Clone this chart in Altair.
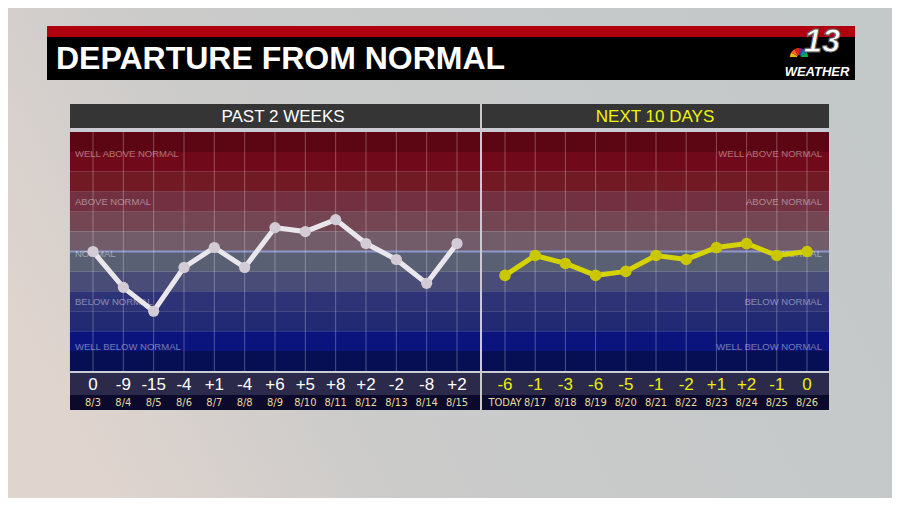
import altair as alt
import pandas as pd

past_dates = ["8/3", "8/4", "8/5", "8/6", "8/7", "8/8", "8/9", "8/10", "8/11", "8/12", "8/13", "8/14", "8/15"]
past_vals = [0, -9, -15, -4, 1, -4, 6, 5, 8, 2, -2, -8, 2]
next_dates = ["TODAY", "8/17", "8/18", "8/19", "8/20", "8/21", "8/22", "8/23", "8/24", "8/25", "8/26"]
next_vals = [-6, -1, -3, -6, -5, -1, -2, 1, 2, -1, 0]

band_colors = ["#5c0614", "#700a1a", "#721a24", "#723040", "#744654", "#735c6a",
               "#5a6074", "#4a4c78", "#2e3276", "#222a74", "#0a147c", "#060e54"]
band_names = ["WELL ABOVE NORMAL", "ABOVE NORMAL", "NORMAL", "BELOW NORMAL", "WELL BELOW NORMAL"]
band_levels = [24.5, 12.4, -0.6, -12.6, -24.1]
peacock = ["#f7b500", "#f26522", "#e2231a", "#6a2c91", "#0089cf", "#0db14b"]

FONT = "Liberation Sans, Arial, sans-serif"
NARROW = "DejaVu Sans Condensed, sans-serif"


def fmt(v):
    return f"+{v}" if v > 0 else str(v)


past = pd.DataFrame({"i": range(len(past_vals)), "v": past_vals, "d": past_dates,
                     "lab": [fmt(v) for v in past_vals]})
nxt = pd.DataFrame({"i": range(len(next_vals)), "v": next_vals, "d": next_dates,
                    "lab": [fmt(v) for v in next_vals]})
bands = pd.DataFrame({"hi": [30 - 5 * k for k in range(12)],
                      "lo": [25 - 5 * k for k in range(12)],
                      "c": band_colors})
labels = pd.DataFrame({"t": band_names, "y": band_levels})
zero = pd.DataFrame({"y": [0]})

Y = alt.Scale(domain=[-30, 30], range=[363, 124])


def box(x, x2, y, y2, color, **kw):
    return alt.Chart(zero).mark_rect(color=color, **kw).encode(
        x=alt.value(x), x2=alt.value(x2), y=alt.value(y), y2=alt.value(y2))


def label(text, x, y, **kw):
    return alt.Chart(pd.DataFrame({"t": [text]})).mark_text(**kw).encode(
        x=alt.value(x), y=alt.value(y), text="t:N")


bg = alt.Chart(zero).mark_rect(color={
    "gradient": "linear", "x1": 0, "y1": 0.6, "x2": 1, "y2": 0.3,
    "stops": [{"offset": 0, "color": "#dfd4ce"},
              {"offset": 0.3, "color": "#cbcbca"},
              {"offset": 1, "color": "#c3c8c9"}]}).encode(
    x=alt.value(0), x2=alt.value(884), y=alt.value(0), y2=alt.value(490))

header = [
    box(39, 847, 18, 29, "#b0000f"),
    box(39, 847, 29, 72, "#000000"),
    label("DEPARTURE FROM NORMAL", 48, 51, align="left", baseline="middle",
          font=FONT, fontSize=32, fontWeight="bold", color="white"),
]


def panel(x0, x1, title, tcolor, tx):
    return [
        box(x0, x1, 96, 120, "#353535"),
        box(x0 - 1, x1 + 1, 120, 365, "#c9cad2"),
        box(x0, x1, 365, 387, "#2c2a4a"),
        box(x0, x1, 387, 402, "#0c0a2c"),
        alt.Chart(bands).mark_rect().encode(
            x=alt.value(x0), x2=alt.value(x1),
            y=alt.Y("hi:Q", scale=Y, axis=None), y2="lo:Q",
            color=alt.Color("c:N", scale=None)),
        label(title, tx, 109, align="center", baseline="middle", font=FONT,
              fontSize=17, color=tcolor),
        alt.Chart(zero).mark_rule(color="#8c98c8", strokeWidth=2).encode(
            x=alt.value(x0), x2=alt.value(x1), y=alt.Y("y:Q", scale=Y, axis=None)),
    ]


def series(df, xrange, line_color, pt_color, val_color, pt_size):
    X = alt.X("i:Q", scale=alt.Scale(domain=[0, len(df) - 1], range=xrange), axis=None)
    base = alt.Chart(df)
    grid = base.mark_rule(color="white", opacity=0.28, strokeWidth=1).encode(
        x=X, y=alt.value(124), y2=alt.value(363))
    line = base.mark_line(color=line_color, strokeWidth=5).encode(
        x=X, y=alt.Y("v:Q", scale=Y, axis=None))
    pts = base.mark_circle(color=pt_color, opacity=1, size=pt_size).encode(
        x=X, y=alt.Y("v:Q", scale=Y, axis=None))
    vals = base.mark_text(font=FONT, fontSize=17, color=val_color, baseline="middle").encode(
        x=X, y=alt.value(377), text="lab:N")
    dates = base.mark_text(font=NARROW, fontSize=11, color="#e6dc9c", baseline="middle").encode(
        x=X, y=alt.value(395), text="d:N")
    return alt.layer(grid, line, pts, vals, dates)


band_text_l = alt.Chart(labels).mark_text(
    align="left", baseline="middle", font=FONT, fontSize=9.5, color="white", opacity=0.42).encode(
    x=alt.value(67), y=alt.Y("y:Q", scale=Y, axis=None), text="t:N")
band_text_r = alt.Chart(labels).mark_text(
    align="right", baseline="middle", font=FONT, fontSize=9.5, color="white", opacity=0.42).encode(
    x=alt.value(814), y=alt.Y("y:Q", scale=Y, axis=None), text="t:N")

left = series(past, [85, 449], "#e9e7eb", "#d3cbd5", "white", 125)
right = series(nxt, [497, 799], "#d6d400", "#cac600", "#ecec10", 135)

logo = [
    alt.Chart(pd.DataFrame({"k": range(6), "c": peacock})).mark_arc(
        innerRadius=2, outerRadius=9).encode(
        theta=alt.Theta("k:O", scale=alt.Scale(range=[4.712, 7.854])),
        color=alt.Color("c:N", scale=None),
        x=alt.value(791), y=alt.value(49)),
    label("13", 814, 34, align="center", baseline="middle", font=FONT, fontSize=33,
          fontWeight="bold", fontStyle="italic", color="white", stroke="#606060", strokeWidth=1),
    label("WEATHER", 809, 64, align="center", baseline="middle", font=FONT, fontSize=13,
          fontWeight="bold", fontStyle="italic", color="white"),
]

chart = alt.layer(
    bg, *header,
    *panel(62, 472, "PAST 2 WEEKS", "white", 275),
    *panel(474, 821, "NEXT 10 DAYS", "#f2f210", 647),
    band_text_l, band_text_r,
    left, right, *logo,
).resolve_scale(x="independent").properties(
    width=884, height=490, padding=0, autosize="none", background="#c8cccc"
).configure_view(stroke=None)

chart.save("out.html", embed_options={"renderer": "svg", "actions": False})
